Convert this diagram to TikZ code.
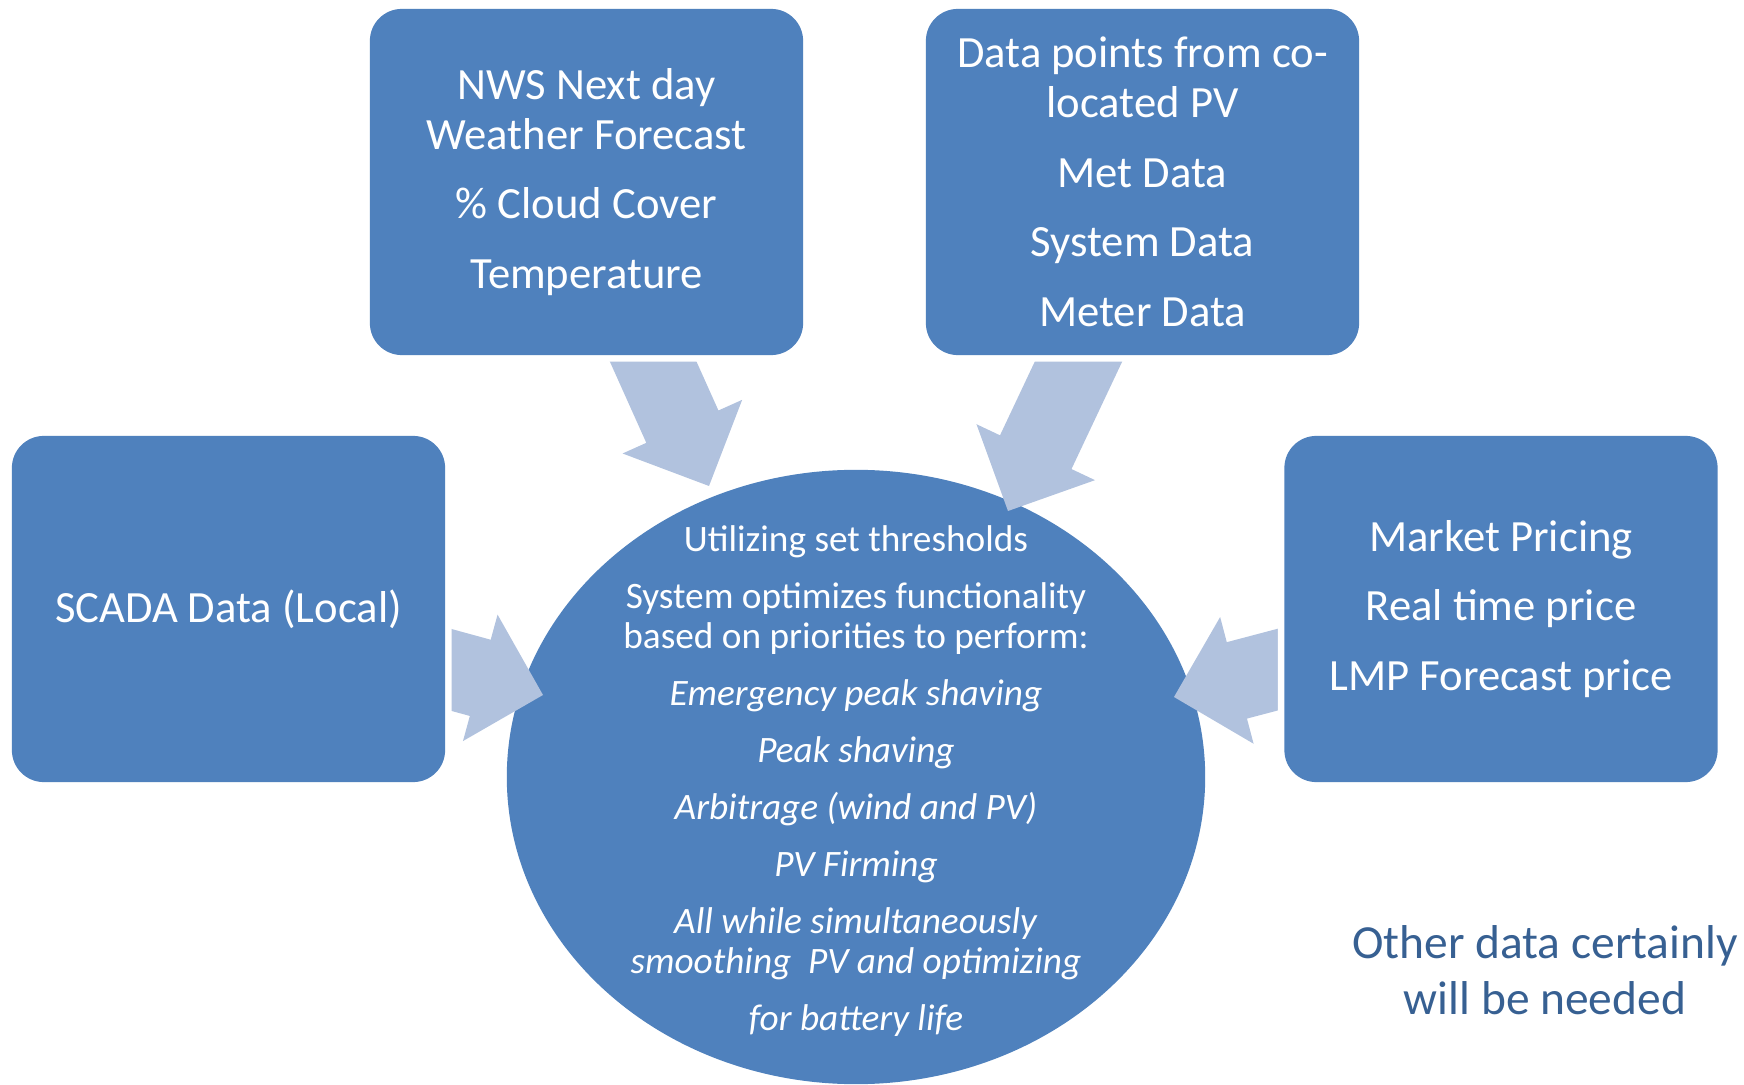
\documentclass[tikz,border=0pt]{standalone}
\usepackage{fontspec}
\setmainfont{Carlito}
\usetikzlibrary{shapes.geometric, calc}

\pgfdeclarelayer{shade}
\pgfsetlayers{shade,main}

\definecolor{boxblue}{HTML}{4F81BD}
\definecolor{feedblue}{HTML}{B1C2DE}
\definecolor{notetext}{HTML}{376092}

\begin{document}
\begin{tikzpicture}[x=0.01cm, y=-0.01cm]
  % Define styles
  \tikzstyle{box} = [rectangle, rounded corners=0.32cm, fill=boxblue, preaction={draw=white, line width=0.13cm}, minimum width=4.33cm, minimum height=3.46cm, inner sep=0pt, text=white, align=center, font=\fontsize{12.7}{14.2}\selectfont]
  \tikzstyle{hub} = [ellipse, fill=boxblue, minimum width=6.98cm, minimum height=6.14cm, inner sep=0pt]
  \tikzstyle{hubtext} = [text=white, align=center, font=\fontsize{10.6}{11.4}\selectfont]
  \tikzstyle{note} = [text=notetext, align=center, font=\fontsize{13.5}{15.9}\selectfont]
  \tikzstyle{feed} = [fill=feedblue]

  \useasboundingbox (0,0) rectangle (1744,1085);

  % Centre
  \begin{pgfonlayer}{shade}
    \node[hub] (hub) at (856,777) {};
  \end{pgfonlayer}
  \node[hubtext] (plan) at ($(hub.center)+(0,4)$) {Utilizing set thresholds\\[4.8pt]
    System optimizes functionality\\based on priorities to perform:\\[4.8pt]
    \textit{Emergency peak shaving}\\[4.8pt]
    \textit{Peak shaving}\\[4.8pt]
    \textit{Arbitrage (wind and PV)}\\[4.8pt]
    \textit{PV Firming}\\[4.8pt]
    \textit{All while simultaneously}\\\textit{smoothing\ \ PV and optimizing}\\[4.8pt]
    \textit{for battery life}};

  % Inputs
  \node[box] (nws) at (586.5,182) {NWS Next day\\Weather Forecast\\[5.6pt]\% Cloud Cover\\[5.6pt]Temperature};
  \node[box] (data) at (1142.5,182) {Data points from co-\\located PV\\[5.6pt]Met Data\\[5.6pt]System Data\\[5.6pt]Meter Data};
  \node[box] (scada) at (228.5,609) {SCADA Data (Local)};
  \node[box] (market) at (1501,609) {Market Pricing\\[5.6pt]Real time price\\[5.6pt]LMP Forecast price};

  \node[note] (other) at (1545,970) {Other data certainly\\will be needed};

  % Arrow ends
  \coordinate (tNws) at ($(nws.south)+(50.8,-29.6)$);
  \coordinate (tData) at ($(data.south)+(-47.5,-29.2)$);
  \coordinate (tScada) at ($(scada.east)+(-32.6,50.5)$);
  \coordinate (tMarket) at ($(market.west)+(32.7,50.4)$);
  \coordinate (hNws) at ($(hub.center)+(-147,-291)$);
  \coordinate (hData) at ($(hub.center)+(152,-266)$);
  \coordinate (hScada) at ($(hub.center)+(-313,-82)$);
  \coordinate (hMarket) at ($(hub.center)+(318,-80)$);

  % Arrows
  \begin{pgfonlayer}{shade}
    \foreach \a/\b in {tNws/hNws, tData/hData, tScada/hScada, tMarket/hMarket} {
      \coordinate (base) at ($(\b)!0.65cm!(\a)$);
      \fill[feed] ($(\a)!0.395cm!90:(\b)$) -- ($(base)!0.395cm!90:(\b)$)
        -- ($(base)!0.655cm!90:(\b)$) -- (\b) -- ($(base)!0.655cm!-90:(\b)$)
        -- ($(base)!0.395cm!-90:(\b)$) -- ($(\a)!0.395cm!-90:(\b)$) -- cycle;
    }
  \end{pgfonlayer}
\end{tikzpicture}
\end{document}
